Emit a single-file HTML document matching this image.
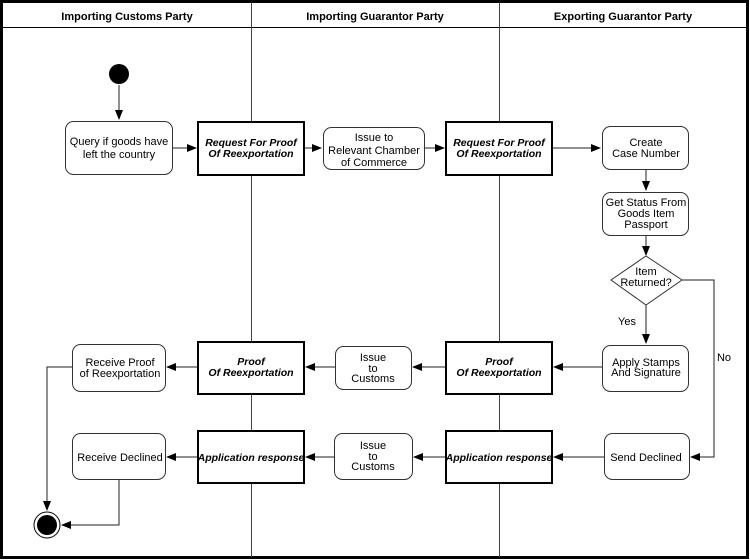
<!DOCTYPE html>
<html><head><meta charset="utf-8"><style>
html,body{margin:0;padding:0;background:#fff}
svg{display:block}
text{font-family:"Liberation Sans",Arial,sans-serif;font-size:11px;fill:#000}
.h{font-weight:bold;font-size:11px}
.b{font-weight:bold;font-style:italic;font-size:10.5px}
</style></head><body>
<svg width="750" height="560" viewBox="0 0 750 560" xmlns="http://www.w3.org/2000/svg">
<defs><marker id="a" markerWidth="10" markerHeight="10" refX="9" refY="5" orient="auto" markerUnits="userSpaceOnUse"><path d="M0,1 L10,5 L0,9 Z" fill="#000"/></marker></defs>
<rect x="1.5" y="1.5" width="746" height="556" fill="#fff" stroke="#000" stroke-width="3"/>
<line x1="3" y1="27.5" x2="747" y2="27.5" stroke="#000" stroke-width="1"/>
<line x1="251.5" y1="3" x2="251.5" y2="557" stroke="#444" stroke-width="1"/>
<line x1="499.5" y1="3" x2="499.5" y2="557" stroke="#444" stroke-width="1"/>
<text class="h" x="127" y="20" text-anchor="middle">Importing Customs Party</text>
<text class="h" x="375" y="20" text-anchor="middle">Importing Guarantor Party</text>
<text class="h" x="623" y="20" text-anchor="middle">Exporting Guarantor Party</text>

<g stroke="#222" stroke-width="1" fill="none" marker-end="url(#a)">
<line x1="119" y1="85" x2="119" y2="119"/>
<line x1="172" y1="148" x2="196" y2="148"/>
<line x1="305" y1="148" x2="321" y2="148"/>
<line x1="424" y1="148" x2="444" y2="148"/>
<line x1="553" y1="148" x2="600" y2="148"/>
<line x1="646" y1="170" x2="646" y2="190"/>
<line x1="646" y1="235" x2="646" y2="255"/>
<line x1="646" y1="305" x2="646" y2="343"/>
<polyline points="682,280 714,280 714,457 691,457"/>
<line x1="602" y1="367" x2="554" y2="367"/>
<line x1="445" y1="367" x2="413" y2="367"/>
<line x1="335" y1="367" x2="306" y2="367"/>
<line x1="198" y1="367" x2="167" y2="367"/>
<line x1="604" y1="457" x2="554" y2="457"/>
<line x1="445" y1="457" x2="414" y2="457"/>
<line x1="334" y1="457" x2="306" y2="457"/>
<line x1="198" y1="457" x2="167" y2="457"/>
<polyline points="72,367 47,367 47,510"/>
<polyline points="119,479 119,525 62,525"/>
</g>

<circle cx="119" cy="74" r="10" fill="#000"/>
<circle cx="47" cy="525" r="13" fill="#fff" stroke="#000" stroke-width="1"/>
<circle cx="47" cy="525" r="10" fill="#000"/>

<g fill="#fff" stroke="#333" stroke-width="1">
<rect x="65.5" y="121.5" width="107" height="53" rx="8"/>
<rect x="323.5" y="127.5" width="101" height="42" rx="8"/>
<rect x="602.5" y="126.5" width="86" height="43" rx="8"/>
<rect x="602.5" y="192.5" width="86" height="43" rx="8"/>
<polygon points="646,256 682,280 646,305 611,280"/>
<rect x="602.5" y="345.5" width="86" height="46" rx="8"/>
<rect x="604.5" y="433.5" width="85" height="46" rx="8"/>
<rect x="335.5" y="346.5" width="76" height="43" rx="8"/>
<rect x="334.5" y="433.5" width="78" height="46" rx="8"/>
<rect x="72.5" y="344.5" width="93" height="47" rx="8"/>
<rect x="72.5" y="433.5" width="93" height="46" rx="8"/>
</g>
<g fill="#fff" stroke="#000" stroke-width="2">
<rect x="198" y="122" width="106" height="53"/>
<rect x="446" y="122" width="106" height="53"/>
<rect x="198" y="342" width="106" height="52"/>
<rect x="446" y="342" width="106" height="52"/>
<rect x="198" y="431" width="106" height="52"/>
<rect x="446" y="431" width="106" height="52"/>
</g>

<g text-anchor="middle">
<text x="119" y="145">Query if goods have</text><text x="119" y="158">left the country</text>
<text class="b" x="251" y="146">Request For Proof</text><text class="b" x="251" y="157">Of Reexportation</text>
<text x="374" y="141">Issue to</text><text x="374" y="154">Relevant Chamber</text><text x="374" y="166">of Commerce</text>
<text class="b" x="499" y="146">Request For Proof</text><text class="b" x="499" y="157">Of Reexportation</text>
<text x="646" y="146">Create</text><text x="646" y="157">Case Number</text>
<text x="646" y="206">Get Status From</text><text x="646" y="217">Goods Item</text><text x="646" y="228">Passport</text>
<text x="646" y="275">Item</text><text x="646" y="286">Returned?</text>
<text x="627" y="325">Yes</text>
<text x="724" y="361">No</text>
<text x="646" y="366">Apply Stamps</text><text x="646" y="376">And Signature</text>
<text x="646" y="461">Send Declined</text>
<text class="b" x="499" y="365">Proof</text><text class="b" x="499" y="376">Of Reexportation</text>
<text class="b" x="499" y="461">Application response</text>
<text x="373" y="361">Issue</text><text x="373" y="372">to</text><text x="373" y="382">Customs</text>
<text x="373" y="449">Issue</text><text x="373" y="460">to</text><text x="373" y="470">Customs</text>
<text class="b" x="251" y="365">Proof</text><text class="b" x="251" y="376">Of Reexportation</text>
<text class="b" x="251" y="461">Application response</text>
<text x="120" y="366">Receive Proof</text><text x="120" y="377">of Reexportation</text>
<text x="120" y="461">Receive Declined</text>
</g>
</svg>
</body></html>
